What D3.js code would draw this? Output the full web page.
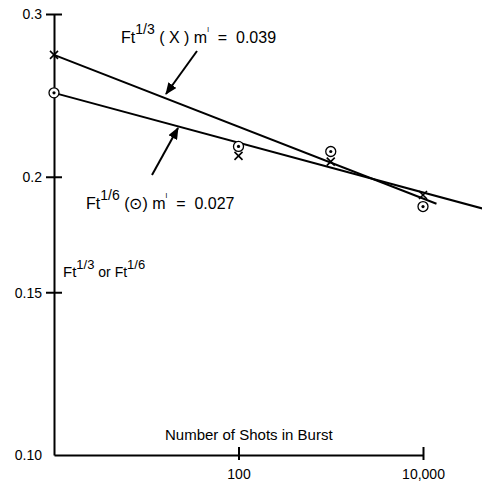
<!DOCTYPE html>
<html>
<head>
<meta charset="utf-8">
<script src="https://cdn.jsdelivr.net/npm/d3@7"></script>
<style>
  body { margin: 0; background: #fff; }
  svg { display: block; font-family: Arial, "Liberation Sans", sans-serif; }
  svg text { white-space: pre; }
  .axis path, .axis line { stroke: #000; stroke-width: 2; }
  .axis text { font-size: 14px; fill: #000; }
</style>
</head>
<body>
<script>
// Shots in burst and the two measured series
var shots = [1, 100, 1000, 10000];
var ftThird = [0.271, 0.2107, 0.2077, 0.1911];   // Ft^1/3, X marks
var ftSixth = [0.2465, 0.2157, 0.2130, 0.1857];  // Ft^1/6, circled dot marks

// fitted lines (end points)
var fitThirdN = [1, 14000];
var fitThirdF = [0.271, 0.187];
var fitSixthN = [1, 45000];
var fitSixthF = [0.2465, 0.1847];

// tick values and labels
var yTicks = [0.3, 0.2, 0.15, 0.1];
var yTickLabels = ["0.3", "0.2", "0.15", "0.10"];
var xTicks = [100, 10000];
var xTickLabels = ["100", "10,000"];

var width = 482, height = 485;

var svg = d3.select("body").append("svg")
  .attr("width", width)
  .attr("height", height);

var xScale = d3.scaleLog().domain([1, 10000]).range([54, 423]);
var yScale = d3.scaleLog().domain([0.1, 0.3]).range([455, 14]);

// arrow head
svg.append("defs").append("marker")
  .attr("id", "arrow")
  .attr("viewBox", "0 0 12 10")
  .attr("refX", 11).attr("refY", 5)
  .attr("markerWidth", 12).attr("markerHeight", 10)
  .attr("markerUnits", "userSpaceOnUse")
  .attr("orient", "auto")
  .append("path")
  .attr("d", "M0,0 L12,5 L0,10 Z")
  .attr("fill", "#000");

// y axis
var yAxis = d3.axisLeft(yScale)
  .tickValues(yTicks)
  .tickFormat(function(d, i) { return yTickLabels[i]; })
  .tickSizeInner(8)
  .tickSizeOuter(0)
  .tickPadding(4);

var gy = svg.append("g")
  .attr("class", "axis")
  .attr("transform", "translate(" + xScale.range()[0] + ",0)")
  .call(yAxis);
gy.selectAll(".tick line").attr("x1", 8);
gy.selectAll(".tick").filter(function(d) { return d === 0.1; }).select("line").remove();
gy.selectAll(".tick text").attr("dy", "0.35em");

// x axis
var xAxis = d3.axisBottom(xScale)
  .tickValues(xTicks)
  .tickFormat(function(d, i) { return xTickLabels[i]; })
  .tickSizeInner(5)
  .tickSizeOuter(0)
  .tickPadding(9);

var gx = svg.append("g")
  .attr("class", "axis")
  .attr("transform", "translate(0," + yScale.range()[0] + ")")
  .call(xAxis);
gx.selectAll(".tick line").attr("y1", -8);

// fitted lines
var line = d3.line()
  .x(function(d) { return xScale(d[0]); })
  .y(function(d) { return yScale(d[1]); });

svg.append("path")
  .datum(d3.zip(fitThirdN, fitThirdF))
  .attr("d", line)
  .attr("fill", "none").attr("stroke", "#000").attr("stroke-width", 2);

svg.append("path")
  .datum(d3.zip(fitSixthN, fitSixthF))
  .attr("d", line)
  .attr("fill", "none").attr("stroke", "#000").attr("stroke-width", 2);

// X markers
svg.selectAll(".xmark")
  .data(d3.zip(shots, ftThird))
  .enter().append("path")
  .attr("class", "xmark")
  .attr("transform", function(d) { return "translate(" + xScale(d[0]) + "," + yScale(d[1]) + ")"; })
  .attr("d", "M-4,-4 L4,4 M-4,4 L4,-4")
  .attr("stroke", "#000").attr("stroke-width", 1.6).attr("fill", "none");

// circled dot markers
var cm = svg.selectAll(".cmark")
  .data(d3.zip(shots, ftSixth))
  .enter().append("g")
  .attr("class", "cmark")
  .attr("transform", function(d) { return "translate(" + xScale(d[0]) + "," + yScale(d[1]) + ")"; });
cm.append("circle").attr("r", 5).attr("fill", "#fff").attr("stroke", "#000").attr("stroke-width", 1.3);
cm.append("circle").attr("r", 1.6).attr("fill", "#000");

// annotation: Ft^1/3
var t1 = svg.append("text").attr("x", 121).attr("y", 43).attr("font-size", 16);
t1.append("tspan").text("Ft");
t1.append("tspan").attr("dy", -9).attr("font-size", 14).text("1/3");
t1.append("tspan").attr("dy", 9).text(" ( X ) m");
t1.append("tspan").attr("dy", -8).attr("font-size", 11).text("ˡ");
t1.append("tspan").attr("dy", 8).text("  =  0.039");

svg.append("line")
  .attr("x1", 197).attr("y1", 51).attr("x2", 166).attr("y2", 94)
  .attr("stroke", "#000").attr("stroke-width", 2)
  .attr("marker-end", "url(#arrow)");

// annotation: Ft^1/6
var t2 = svg.append("text").attr("x", 86).attr("y", 209).attr("font-size", 16);
t2.append("tspan").text("Ft");
t2.append("tspan").attr("dy", -9).attr("font-size", 14).text("1/6");
t2.append("tspan").attr("dy", 9).text(" (");
t2.append("tspan").text("\u2299");
t2.append("tspan").text(") m");
t2.append("tspan").attr("dy", -8).attr("font-size", 11).text("ˡ");
t2.append("tspan").attr("dy", 8).text("  =  0.027");

svg.append("line")
  .attr("x1", 152).attr("y1", 175).attr("x2", 178).attr("y2", 128)
  .attr("stroke", "#000").attr("stroke-width", 2)
  .attr("marker-end", "url(#arrow)");

// y label
var t3 = svg.append("text").attr("x", 63).attr("y", 277).attr("font-size", 15);
t3.append("tspan").text("Ft");
t3.append("tspan").attr("dy", -8).attr("font-size", 13).text("1/3");
t3.append("tspan").attr("dy", 8).attr("font-size", 14).text(" or Ft");
t3.append("tspan").attr("dy", -8).attr("font-size", 13).text("1/6");

// x label
svg.append("text")
  .attr("x", 165).attr("y", 440)
  .attr("font-size", 15)
  .text("Number of Shots in Burst");
</script>
</body>
</html>
